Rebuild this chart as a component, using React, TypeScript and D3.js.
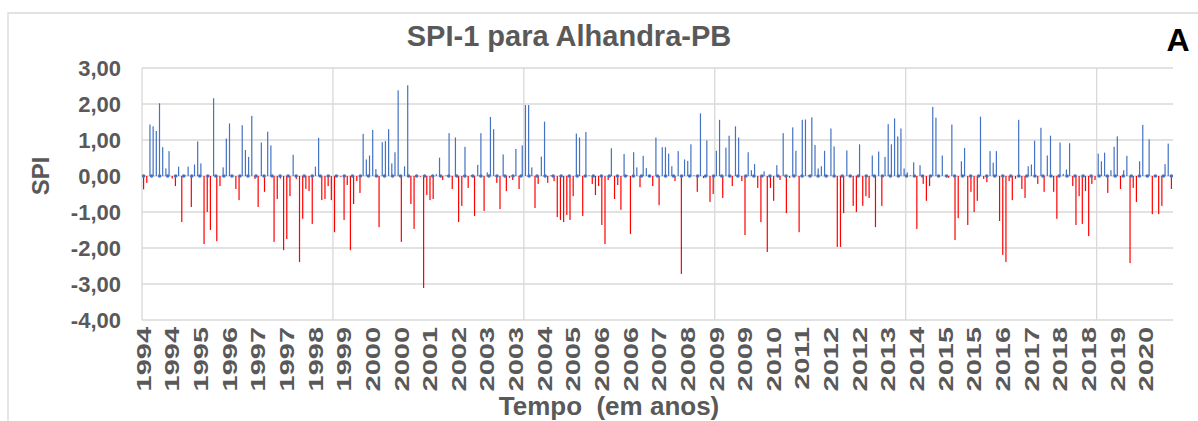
import React, { useEffect, useRef } from 'react';
import * as d3 from 'd3';

// Monthly SPI-1 values (Jan..Dec)
const spi1994 = [-0.37, -0.19, 1.43, 1.38, 1.25, 2.02, 0.8, 0.21, 0.69, -0.07, -0.28, 0.26];
const spi1995 = [-1.28, 0.02, 0.26, -0.86, 0.32, 0.96, 0.35, -1.89, -1.0, -1.5, 2.16, -1.81];
const spi1996 = [-0.28, 0.24, 1.04, 1.46, 0.02, -0.36, -0.67, 1.41, 0.72, 0.53, 1.67, -0.08];
const spi1997 = [-0.86, 0.93, -0.44, 1.23, 0.85, -1.83, -0.64, -0.07, -2.06, -1.75, -0.56, 0.59];
const spi1998 = [-0.08, -2.39, -1.19, -0.36, -0.42, -1.33, 0.26, 1.06, -0.67, -0.64, -0.28, -0.67];
const spi1999 = [-1.56, 0.02, -0.02, -1.22, -0.25, -2.06, -0.78, -0.14, -0.47, 1.17, 0.46, 0.57];
const spi2000 = [1.28, 0.19, -1.42, 0.94, 0.97, 1.3, 0.35, 0.66, 2.38, -1.83, 0.27, 2.52];
const spi2001 = [-0.78, -1.47, 0.02, -0.02, -3.11, -0.53, -0.67, -0.64, 0.05, 0.51, -0.11, 0.02];
const spi2002 = [1.19, -0.36, 1.07, -1.28, -0.83, 0.81, -0.33, 0.02, -1.11, 0.31, 1.19, -0.97];
const spi2003 = [0.1, 1.64, 1.3, -0.19, -0.92, 0.6, -0.42, -0.05, -0.11, 0.75, -0.36, 0.85];
const spi2004 = [1.97, 1.97, 0.24, -0.89, -0.22, 0.54, 1.51, -0.19, 0.02, -0.14, -1.14, -1.22];
const spi2005 = [-1.28, -1.08, -1.22, -0.56, 1.18, 1.07, -1.11, 1.22, 0.02, -0.22, -0.53, -0.28];
const spi2006 = [-1.36, -1.89, -0.11, 0.77, -0.64, -0.25, -0.94, 0.61, 0.02, -1.61, 0.66, 0.24];
const spi2007 = [-0.31, 0.56, 0.22, 0.02, -0.28, 1.07, -0.81, 0.8, 0.8, 0.62, 0.27, -0.14];
const spi2008 = [0.69, -2.72, 0.46, 0.42, 0.88, 0.02, -0.44, 1.74, -0.06, 0.99, -0.72, -0.5];
const spi2009 = [0.7, 1.56, -0.61, 0.79, 1.12, -0.28, 1.38, 1.07, -0.14, -1.64, 0.66, 0.16];
const spi2010 = [0.33, -0.33, -1.28, 0.13, -2.11, -0.33, -0.69, 0.3, -0.11, 1.19, -1.03, -0.05];
const spi2011 = [1.35, 0.7, -1.56, 1.56, 1.57, 0.02, 1.63, 0.86, 0.21, 0.27, 0.7, 0.02];
const spi2012 = [1.32, 0.82, -1.97, -1.97, -1.03, 0.71, 0.02, -0.83, -1.0, 0.88, -0.83, -0.56];
const spi2013 = [-0.61, 0.57, -1.42, 0.68, -0.83, 0.53, 1.44, 0.88, 1.6, 1.1, 1.32, 0.21];
const spi2014 = [0.1, 0.02, 0.38, -1.47, 0.3, -0.22, -0.69, -0.28, 1.92, 1.62, 0.02, 0.57];
const spi2015 = [0.02, -0.05, 1.43, -1.78, -1.17, 0.41, 0.78, -1.36, -0.44, -1.0, -0.69, 1.65];
const spi2016 = [-0.08, -0.17, 0.69, 0.37, 0.69, -1.25, -2.19, -2.39, -0.14, -0.67, -0.08, 1.56];
const spi2017 = [-0.36, -0.61, 0.27, 0.32, 0.98, -0.22, 1.34, -0.44, 0.57, 1.12, -0.44, -1.19];
const spi2018 = [0.93, 0.06, 0.18, 0.91, -0.28, -1.36, -0.56, -1.33, -0.42, -1.67, -0.22, -0.11];
const spi2019 = [0.62, 0.41, 0.65, -0.47, 0.16, 0.81, 1.1, -0.36, 0.16, 0.56, -2.42, -0.33];
const spi2020 = [-0.72, 0.41, 1.42, 0.02, 1.02, -1.06, 0.02, -1.06, -0.83, 0.33, 0.9, -0.36];

const yearLabels = [
  '1994', '1994', '1995', '1996', '1997', '1997', '1998', '1999', '2000', '2000',
  '2001', '2002', '2003', '2003', '2004', '2005', '2006', '2006', '2007', '2008',
  '2009', '2009', '2010', '2011', '2012', '2012', '2013', '2014', '2015', '2015',
  '2016', '2017', '2018', '2018', '2019', '2020',
];
const yTicks = [3, 2, 1, 0, -1, -2, -3, -4];

const series = [
  spi1994, spi1995, spi1996, spi1997, spi1998, spi1999, spi2000, spi2001, spi2002,
  spi2003, spi2004, spi2005, spi2006, spi2007, spi2008, spi2009, spi2010, spi2011,
  spi2012, spi2013, spi2014, spi2015, spi2016, spi2017, spi2018, spi2019, spi2020,
].flat();

const FONT = "'Liberation Sans', Arial, sans-serif";
const GRAY = '#595959';
const GRID = '#d9d9d9';

export default function App() {
  const ref = useRef<SVGSVGElement>(null);

  useEffect(() => {
    const svg = d3.select(ref.current);
    svg.selectAll('*').remove();

    const left = 142, right = 1173, top = 68, bottom = 320;
    const x = d3.scaleBand<number>().domain(d3.range(series.length)).range([left, right]).padding(0);
    const y = d3.scaleLinear().domain([-4, 3]).range([bottom, top]);
    const bw = x.bandwidth();

    // outer frame
    svg.append('path').attr('d', 'M8,421 V13 H1198').attr('fill', 'none')
      .attr('stroke', GRID).attr('stroke-width', 1.3);

    // horizontal gridlines
    svg.append('g').selectAll('line').data(yTicks).join('line')
      .attr('x1', left).attr('x2', right)
      .attr('y1', (d) => y(d)).attr('y2', (d) => y(d))
      .attr('stroke', GRID).attr('stroke-width', 1.3);

    // vertical gridlines every 60 months
    svg.append('g').selectAll('line').data(d3.range(0, series.length, 60)).join('line')
      .attr('x1', (d) => x(d)!).attr('x2', (d) => x(d)!)
      .attr('y1', top).attr('y2', bottom)
      .attr('stroke', GRID).attr('stroke-width', 1.3);

    // bars
    svg.append('g').selectAll('rect').data(series).join('rect')
      .attr('x', (_d, i) => x(i)! + bw / 2 - 0.6)
      .attr('width', 1.2)
      .attr('y', (d) => y(Math.max(0, d)))
      .attr('height', (d) => Math.abs(y(d) - y(0)))
      .attr('fill', (d) => (d < 0 ? '#ff0000' : '#4472c4'));

    // dotted zero line
    svg.append('line')
      .attr('x1', x(0)! + bw / 2).attr('x2', right)
      .attr('y1', y(0)).attr('y2', y(0))
      .attr('stroke', '#4472c4').attr('stroke-width', 3.6)
      .attr('stroke-linecap', 'round').attr('stroke-dasharray', '0 8.03');

    // y tick labels
    svg.append('g').selectAll('text').data(yTicks).join('text')
      .attr('x', 121).attr('y', (d) => y(d)).attr('dy', '0.36em')
      .attr('text-anchor', 'end')
      .attr('font-family', FONT).attr('font-weight', 'bold').attr('font-size', 22)
      .attr('fill', GRAY)
      .text((d) => d3.format('.2f')(d).replace('.', ',').replace('−', '-'));

    // x tick labels (every 9 months), elongated as in the reference
    svg.append('g').selectAll('text').data(yearLabels).join('text')
      .attr('transform', (_d, i) => `translate(${x(i * 9)! + bw / 2},327) rotate(-90) scale(1.45,1)`)
      .attr('dy', '0.36em')
      .attr('text-anchor', 'end')
      .attr('font-family', FONT).attr('font-weight', 'bold').attr('font-size', 20)
      .attr('fill', GRAY)
      .text((d) => d);

    // axis titles
    svg.append('text')
      .attr('transform', 'translate(40,176) rotate(-90)')
      .attr('dy', '0.36em').attr('text-anchor', 'middle')
      .attr('font-family', FONT).attr('font-weight', 'bold').attr('font-size', 24)
      .attr('fill', GRAY).text('SPI');

    svg.append('text')
      .attr('x', 609).attr('y', 415)
      .attr('text-anchor', 'middle')
      .attr('font-family', FONT).attr('font-weight', 'bold').attr('font-size', 26)
      .attr('fill', GRAY).attr('xml:space', 'preserve').text('Tempo  (em anos)');

    // title
    svg.append('text')
      .attr('x', 569).attr('y', 46)
      .attr('text-anchor', 'middle')
      .attr('font-family', FONT).attr('font-weight', 'bold').attr('font-size', 29)
      .attr('fill', GRAY).text('SPI-1 para Alhandra-PB');

    // panel letter
    svg.append('text')
      .attr('x', 1178).attr('y', 51)
      .attr('text-anchor', 'middle')
      .attr('font-family', FONT).attr('font-weight', 'bold').attr('font-size', 32)
      .attr('fill', '#000').text('A');
  }, []);

  return (
    <svg
      ref={ref}
      width={1198}
      height={421}
      style={{ position: 'absolute', left: 0, top: 0, background: '#fff', display: 'block' }}
    />
  );
}
